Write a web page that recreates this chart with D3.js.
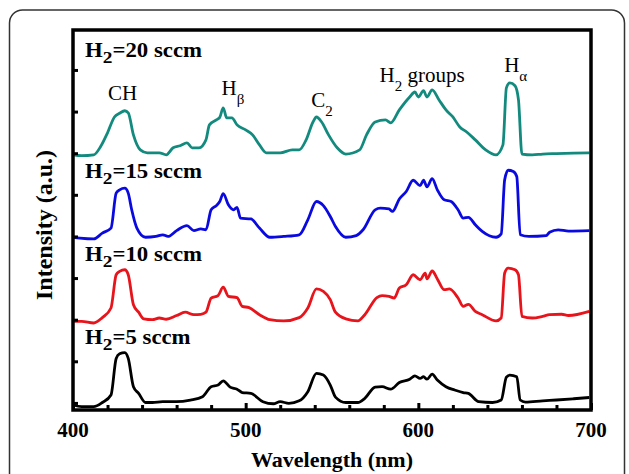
<!DOCTYPE html>
<html>
<head>
<meta charset="utf-8">
<script src="https://cdn.jsdelivr.net/npm/d3@7"></script>
<style>
  body { margin: 0; background: #fff; }
  svg { display: block; }
  text { font-family: "Liberation Serif", "Times New Roman", serif; }
</style>
</head>
<body>
<svg id="chart" width="629" height="474"></svg>
<script>
// spectra: [wavelength nm, intensity above own baseline (a.u.)]
const h2_5 = [[400,-0.05],[405,-0.09],[412,-0.09],[417,0.01],[422,0.19],[425,1.07],[427,1.18],[430,1.21],[432,1.07],[435,0.39],[438,0.23],[442,0.01],[446,0.01],[452,0.03],[460,0.03],[468,0.07],[475,0.15],[480,0.39],[484,0.43],[487,0.53],[491,0.38],[495,0.33],[498,0.25],[503,0.23],[510,0.03],[516,-0.02],[520,0.03],[525,-0.01],[531,0.05],[536,0.27],[541,0.71],[545,0.67],[549,0.43],[552,0.14],[558,0.01],[565,0.01],[569,0.11],[575,0.38],[579,0.39],[584,0.33],[589,0.49],[595,0.57],[598,0.65],[601,0.59],[603,0.63],[605,0.57],[608,0.69],[611,0.55],[616,0.39],[621,0.31],[626,0.25],[629,0.23],[635,0.03],[643,0.01],[648,0.07],[651,0.62],[653,0.67],[657,0.63],[659,0.07],[662,0.02],[672,0.05],[680,0.07],[690,0.1],[699,0.13]]

const h2_10 = [[400,-0.04],[405,-0.04],[412,-0.08],[417,0.05],[422,0.28],[425,1.08],[427,1.16],[430,1.2],[432,1.08],[435,0.36],[438,0.18],[441,0.02],[446,0.0],[450,0.04],[454,0.01],[460,0.1],[465,0.18],[470,0.12],[474,0.13],[477,0.18],[480,0.52],[484,0.58],[487,0.78],[490,0.56],[495,0.53],[498,0.32],[502,0.29],[508,0.12],[514,0.0],[522,-0.03],[531,0.05],[536,0.28],[541,0.74],[545,0.68],[549,0.48],[552,0.18],[558,0.02],[565,-0.03],[569,0.12],[576,0.53],[579,0.58],[583,0.56],[586,0.52],[589,0.76],[593,0.84],[597,1.08],[601,0.96],[604,1.12],[605,0.98],[608,1.17],[611,0.98],[615,0.72],[618,0.74],[623,0.52],[626,0.32],[629,0.37],[633,0.2],[637,0.12],[645,-0.03],[648,0.04],[650,1.12],[652,1.24],[656,1.2],[658,1.08],[660,0.08],[666,0.04],[672,0.08],[676,0.12],[683,0.13],[687,0.1],[699,0.2]]

const h2_15 = [[400,-0.02],[404,-0.04],[412,-0.06],[417,0.08],[422,0.2],[425,1.04],[427,1.12],[430,1.16],[432,1.04],[434,0.64],[437,0.2],[442,-0.02],[448,0.0],[452,0.04],[455,0.0],[460,0.14],[466,0.26],[470,0.14],[474,0.18],[477,0.16],[480,0.64],[483,0.74],[485,0.84],[487,1.03],[490,0.76],[493,0.64],[495,0.7],[497,0.44],[503,0.42],[508,0.2],[514,-0.02],[522,0.0],[531,0.04],[536,0.4],[541,0.84],[545,0.74],[549,0.48],[552,0.24],[558,-0.02],[564,0.02],[568,0.16],[575,0.64],[578,0.68],[583,0.66],[585,0.6],[589,0.9],[593,1.08],[597,1.35],[601,1.22],[603,1.35],[605,1.19],[608,1.39],[611,1.12],[615,0.88],[619,0.84],[623,0.64],[626,0.44],[629,0.46],[633,0.28],[637,0.12],[645,-0.02],[648,0.06],[650,1.36],[652,1.59],[655,1.56],[657,1.44],[659,0.04],[664,0.0],[674,0.02],[676,0.1],[681,0.16],[687,0.13],[699,0.14]]

const h2_20 = [[400,0.0],[405,-0.02],[412,0.0],[416,0.2],[420,0.53],[424,0.91],[427,1.0],[430,1.06],[432,1.01],[435,0.48],[439,0.12],[443,0.05],[450,0.05],[454,0.0],[458,0.17],[462,0.22],[466,0.29],[469,0.17],[473,0.17],[477,0.36],[479,0.72],[483,0.84],[485,0.9],[487,1.13],[489,0.89],[492,0.89],[495,0.72],[500,0.6],[504,0.48],[508,0.24],[512,0.05],[520,0.05],[527,0.12],[531,0.12],[535,0.36],[539,0.79],[541,0.91],[544,0.79],[548,0.48],[553,0.17],[558,0.02],[566,0.12],[570,0.48],[575,0.79],[581,0.84],[584,0.77],[589,1.08],[595,1.39],[598,1.51],[600,1.39],[603,1.54],[605,1.39],[608,1.56],[612,1.32],[616,1.08],[620,0.91],[624,0.67],[628,0.55],[633,0.36],[639,0.12],[645,0.0],[649,0.24],[651,1.61],[653,1.73],[656,1.66],[658,1.32],[660,0.02],[666,0.0],[672,0.02],[680,0.03],[690,0.04],[699,0.05]]

const flows = ['5', '10', '15', '20']
const spectra = [h2_5, h2_10, h2_15, h2_20]
const colors = ['#000000', '#e8141c', '#0a0ae0', '#138a7e']
const offsets = [0, 2, 4, 5.96]
const labelHeights = [1.42, 3.42, 5.4, 8.31]

const xTicks = d3.range(400, 701, 20)
const yTicks = d3.range(0, 9, 1)

// peak annotations: [main, subscript, wavelength, height]
const peaks = [
  ['CH', '', 420.2, 7.28],
  ['H', 'β', 486, 7.39],
  ['C', '2', 538, 7.12],
  ['H', '2', 577.5, 7.72],
  ['H', 'α', 649.7, 7.96]
]

const svg = d3.select('#chart')

// outer rounded panel border
svg.append('rect')
  .attr('x', 9.5).attr('y', 10)
  .attr('width', 615).attr('height', 490)
  .attr('rx', 13)
  .style('fill', 'none')
  .style('stroke', '#333')
  .style('stroke-width', 1.5)

const x = d3.scaleLinear().domain([400, 700]).range([73, 591])
const y = d3.scaleLinear().domain([-0.17, 8.96]).range([410, 30])

const line = d3.line()
  .x(d => x(d[0]))
  .y(d => y(d[1]))
  .curve(d3.curveMonotoneX)

spectra.forEach((s, i) => {
  svg.append('path')
    .datum(s.map(d => [d[0], d[1] + offsets[i]]))
    .attr('d', line)
    .style('fill', 'none')
    .style('stroke', colors[i])
    .style('stroke-width', 2.8)
    .style('stroke-linejoin', 'round')
})

// x axis ticks (inward)
const xAxis = svg.append('g')
  .attr('transform', 'translate(0,410)')
  .call(d3.axisBottom(x).tickValues(xTicks).tickSizeInner(-5).tickSizeOuter(0).tickFormat(''))
xAxis.select('.domain').remove()
xAxis.selectAll('.tick line')
  .attr('y2', d => d % 100 === 0 ? -7 : -5)
  .style('stroke-width', 3)

const yAxis = svg.append('g')
  .attr('transform', 'translate(73,0)')
  .call(d3.axisLeft(y).tickValues(yTicks).tickSizeInner(-5).tickSizeOuter(0).tickFormat(''))
yAxis.select('.domain').remove()
yAxis.selectAll('.tick line').style('stroke-width', 3)

// frame
svg.append('rect')
  .attr('x', 73).attr('y', 30)
  .attr('width', 518).attr('height', 380)
  .style('fill', 'none')
  .style('stroke', '#000')
  .style('stroke-width', 3.5)

// tick labels
svg.selectAll('.xlab')
  .data([400, 500, 600, 700])
  .enter().append('text')
  .attr('x', d => x(d))
  .attr('y', 437)
  .attr('text-anchor', 'middle')
  .style('font-size', '21px')
  .style('font-weight', 'bold')
  .text(d => d)

// axis titles
svg.append('text')
  .attr('x', x(550)).attr('y', 467)
  .attr('text-anchor', 'middle')
  .style('font-size', '22px')
  .style('font-weight', 'bold')
  .text('Wavelength (nm)')

svg.append('text')
  .attr('transform', 'translate(52,225)rotate(-90)')
  .attr('text-anchor', 'middle')
  .style('font-size', '24px')
  .style('font-weight', 'bold')
  .text('Intensity (a.u.)')

// series labels
flows.forEach((f, i) => {
  const t = svg.append('text')
    .attr('transform', 'translate(85,' + y(labelHeights[i]) + ')scale(1.14,1)')
    .style('font-size', '20px')
    .style('font-weight', 'bold')
  t.append('tspan').text('H')
  t.append('tspan').attr('dy', 6).style('font-size', '17px').text('2')
  t.append('tspan').attr('dy', -6).text('=' + f + ' sccm')
})

// peak labels
peaks.forEach(p => {
  const t = svg.append('text')
    .attr('x', x(p[2]))
    .attr('y', y(p[3]))
    .style('font-size', '21px')
  t.append('tspan').text(p[0])
  if (p[1]) {
    t.append('tspan').attr('dy', 9).style('font-size', '15px').text(p[1])
    if (p[1] === '2' && p[0] === 'H') {
      t.append('tspan').attr('dy', -9).text(' groups')
    }
  }
})
</script>
</body>
</html>
